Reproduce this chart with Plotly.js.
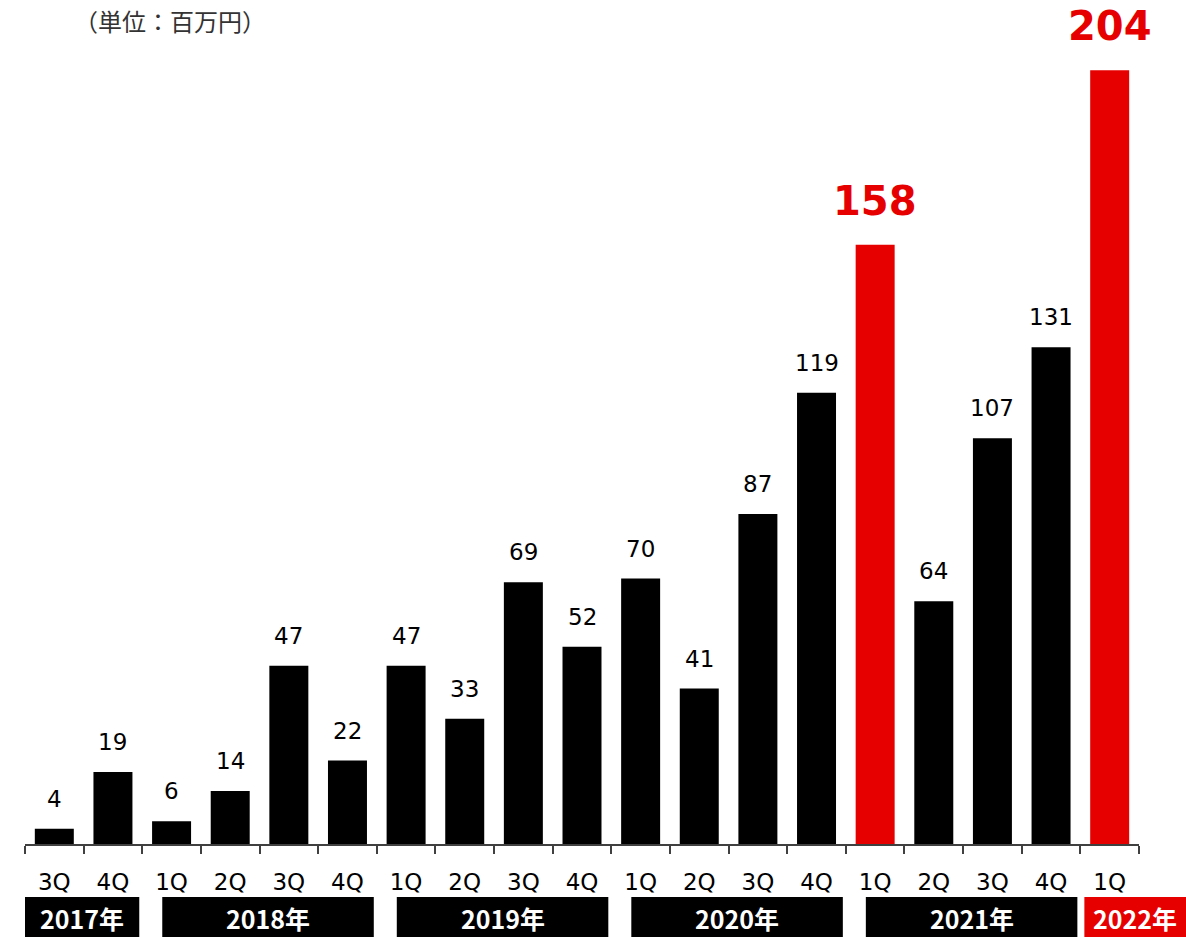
<!DOCTYPE html>
<html><head><meta charset="utf-8">
<script src="https://cdn.plot.ly/plotly-3.0.1.min.js"></script>
<style>html,body{margin:0;padding:0;background:#fff}#chart{width:1186px;height:937px}</style>
</head><body><div id="chart"></div>
<script>
const years = ["2017","2017","2018","2018","2018","2018","2019","2019","2019","2019","2020","2020","2020","2020","2021","2021","2021","2021","2022"];
const quarters = ["3Q","4Q","1Q","2Q","3Q","4Q","1Q","2Q","3Q","4Q","1Q","2Q","3Q","4Q","1Q","2Q","3Q","4Q","1Q"];
const values = [4,19,6,14,47,22,47,33,69,52,70,41,87,119,158,64,107,131,204];
const highlighted = [false,false,false,false,false,false,false,false,false,false,false,false,false,false,true,false,false,false,true];
const yearLabels = ["2017年","2018年","2019年","2020年","2021年","2022年"];
const yearHighlighted = [false,false,false,false,false,true];
const unitLabel = "（単位：百万円）";

const RED = "#e60000";
const categories = years.map((y,i)=>y+"-"+quarters[i]);
const n = categories.length;

// layout geometry
const W = 1186, H = 937;
const mL = 25, mR = 47, mT = 30, mB = 93;
const plotW = W - mL - mR, plotH = H - mT - mB;
const pxX = px => (px - mL) / plotW;           // page px -> paper x
const pxY = py => (H - mB - py) / plotH;       // page px -> paper y

const annotations = [];
values.forEach((v,i)=>{
  annotations.push({
    x: categories[i], y: v, xref:"x", yref:"y",
    text: String(v), showarrow:false,
    yanchor:"middle", yshift: highlighted[i] ? 44 : 30,
    font: highlighted[i]
      ? {family:"DejaVu Sans", size:40, color:RED, weight:"bold"}
      : {family:"DejaVu Sans", size:23, color:"#000"}
  });
});

// year groups from the years array
const shapes = [];
yearLabels.forEach((lab,k)=>{
  const yr = lab.replace("年","");
  const s = years.indexOf(yr), e = years.lastIndexOf(yr) + 1;
  let x0 = s / n, x1 = e / n;
  const leftIn = (k === 0) ? 0 : (k === yearLabels.length-1 ? 4 : 20);
  x0 += leftIn / plotW;
  if (k === yearLabels.length-1) { x1 = pxX(W); } else { x1 -= 3 / plotW; }
  const col = yearHighlighted[k] ? RED : "#000";
  shapes.push({type:"rect", xref:"paper", yref:"paper", x0:x0, x1:x1,
    y0: pxY(937), y1: pxY(897), fillcolor: col, line:{width:0}, layer:"above"});
  annotations.push({xref:"paper", yref:"paper", x:(x0+x1)/2, y:pxY(918),
    text: lab, showarrow:false, xanchor:"center", yanchor:"middle",
    font:{family:"Noto Sans CJK JP", size:25, color:"#fff", weight:"bold"}});
});

annotations.push({xref:"paper", yref:"paper", x:pxX(72), y:pxY(20),
  text: unitLabel, showarrow:false, xanchor:"left", yanchor:"middle",
  font:{family:"Noto Sans CJK JP", size:24, color:"#333"}});

const trace = {
  type:"bar", x: categories, y: values,
  marker:{color: highlighted.map(h=>h?RED:"#000"), line:{width:0}},
  hoverinfo:"none"
};

const layout = {
  width:W, height:H,
  margin:{l:mL, r:mR, t:mT, b:mB, pad:0},
  paper_bgcolor:"#fff", plot_bgcolor:"#fff",
  showlegend:false, bargap:0.335,
  xaxis:{type:"category", range:[-0.5, n-0.5], autorange:false,
    tickmode:"array", tickvals:categories, ticktext:quarters,
    tickson:"boundaries", ticks:"outside", ticklen:8, tickwidth:2, tickcolor:"#404040",
    showline:true, linecolor:"#404040", linewidth:2, showgrid:false, zeroline:false,
    tickfont:{family:"DejaVu Sans", size:23, color:"#000"}, ticklabelstandoff:16,
    fixedrange:true},
  yaxis:{range:[0, plotH/3.7926], autorange:false, visible:false, showgrid:false, zeroline:false, fixedrange:true},
  shapes: shapes,
  annotations: annotations
};

Plotly.newPlot("chart", [trace], layout, {displayModeBar:false, staticPlot:true});
</script></body></html>
